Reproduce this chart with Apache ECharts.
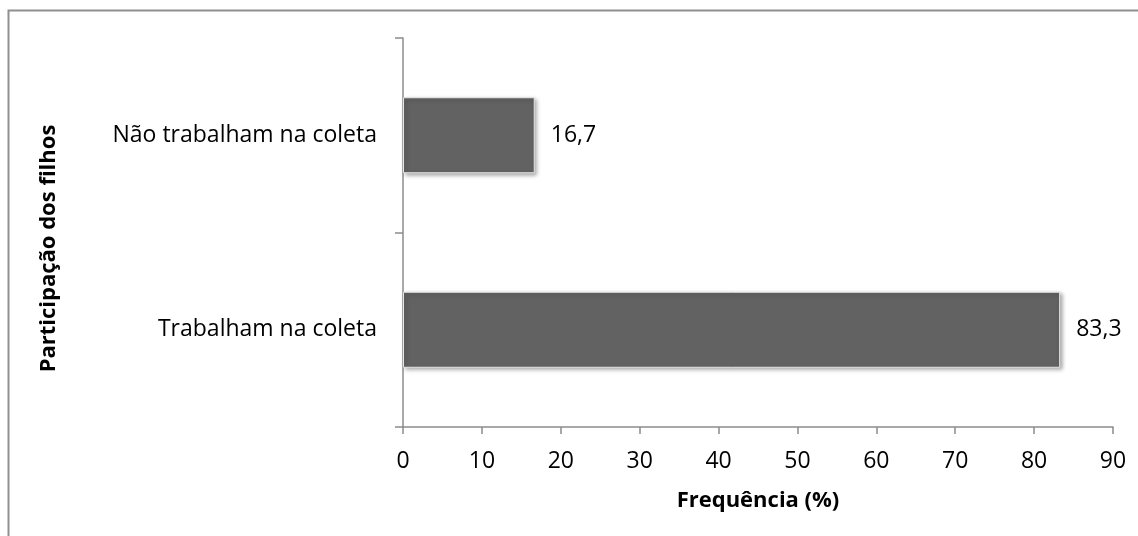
<!DOCTYPE html>
<html>
<head>
<meta charset="utf-8">
<script src="https://cdn.jsdelivr.net/npm/echarts@6/dist/echarts.min.js"></script>
<style>
html,body{margin:0;padding:0;background:#fff;}
#chart{width:1138px;height:536px;}
</style>
</head>
<body>
<div id="chart"></div>
<script>
// categorias (de baixo para cima)
var categorias = ['Trabalham na coleta', 'Não trabalham na coleta'];
var frequencia = [83.3, 16.7];
var xTicks = [0, 10, 20, 30, 40, 50, 60, 70, 80, 90];

var fonte = '"Open Sans", sans-serif';
var corEixo = '#8c8c8c';

var myChart = echarts.init(document.getElementById('chart'));
var option = {
	animation: false,
	graphic: [{
		type: 'rect',
		shape: {x: 8.5, y: 10.5, width: 1140, height: 540},
		style: {fill: 'none', stroke: '#8f8f8f', lineWidth: 2}
	}],
	grid: {
		left: 403,
		right: 25,
		top: 38,
		bottom: 109
	},
	xAxis: {
		type: 'value',
		min: xTicks[0],
		max: xTicks[xTicks.length - 1],
		interval: 10,
		name: 'Frequência (%)',
		nameLocation: 'middle',
		nameGap: 63,
		nameTextStyle: {fontFamily: fonte, fontSize: 22, fontWeight: 'bold', color: '#000'},
		axisLine: {show: true, lineStyle: {color: corEixo, width: 1.5}},
		axisTick: {show: true, length: 7, lineStyle: {color: corEixo, width: 1.5}},
		axisLabel: {fontFamily: fonte, fontSize: 23, color: '#000', margin: 23},
		splitLine: {show: false}
	},
	yAxis: {
		type: 'category',
		data: categorias,
		name: 'Participação dos filhos',
		nameLocation: 'middle',
		nameRotate: 90,
		nameGap: 343,
		// desloca o título um pouco para baixo
		nameTextStyle: {fontFamily: fonte, fontSize: 22, fontWeight: 'bold', color: '#000', padding: [0, 32, 0, 0]},
		axisLine: {show: true, lineStyle: {color: corEixo, width: 1.5}},
		axisTick: {show: true, length: 8, lineStyle: {color: corEixo, width: 1.5}},
		axisLabel: {fontFamily: fonte, fontSize: 23, color: '#000', margin: 26}
	},
	series: [{
		type: 'bar',
		data: frequencia,
		barWidth: 76,
		itemStyle: {
			color: '#626262',
			borderColor: '#e6e6e6',
			borderWidth: 1,
			shadowBlur: 4,
			shadowOffsetX: 2,
			shadowOffsetY: 2,
			shadowColor: 'rgba(0,0,0,0.35)'
		},
		label: {
			show: true,
			position: 'right',
			distance: 16,
			fontFamily: fonte,
			fontSize: 23,
			color: '#000',
			formatter: function(p) {
				return p.value.toFixed(1).replace('.', ',');
			}
		}
	}]
};
myChart.setOption(option);
</script>
</body>
</html>
